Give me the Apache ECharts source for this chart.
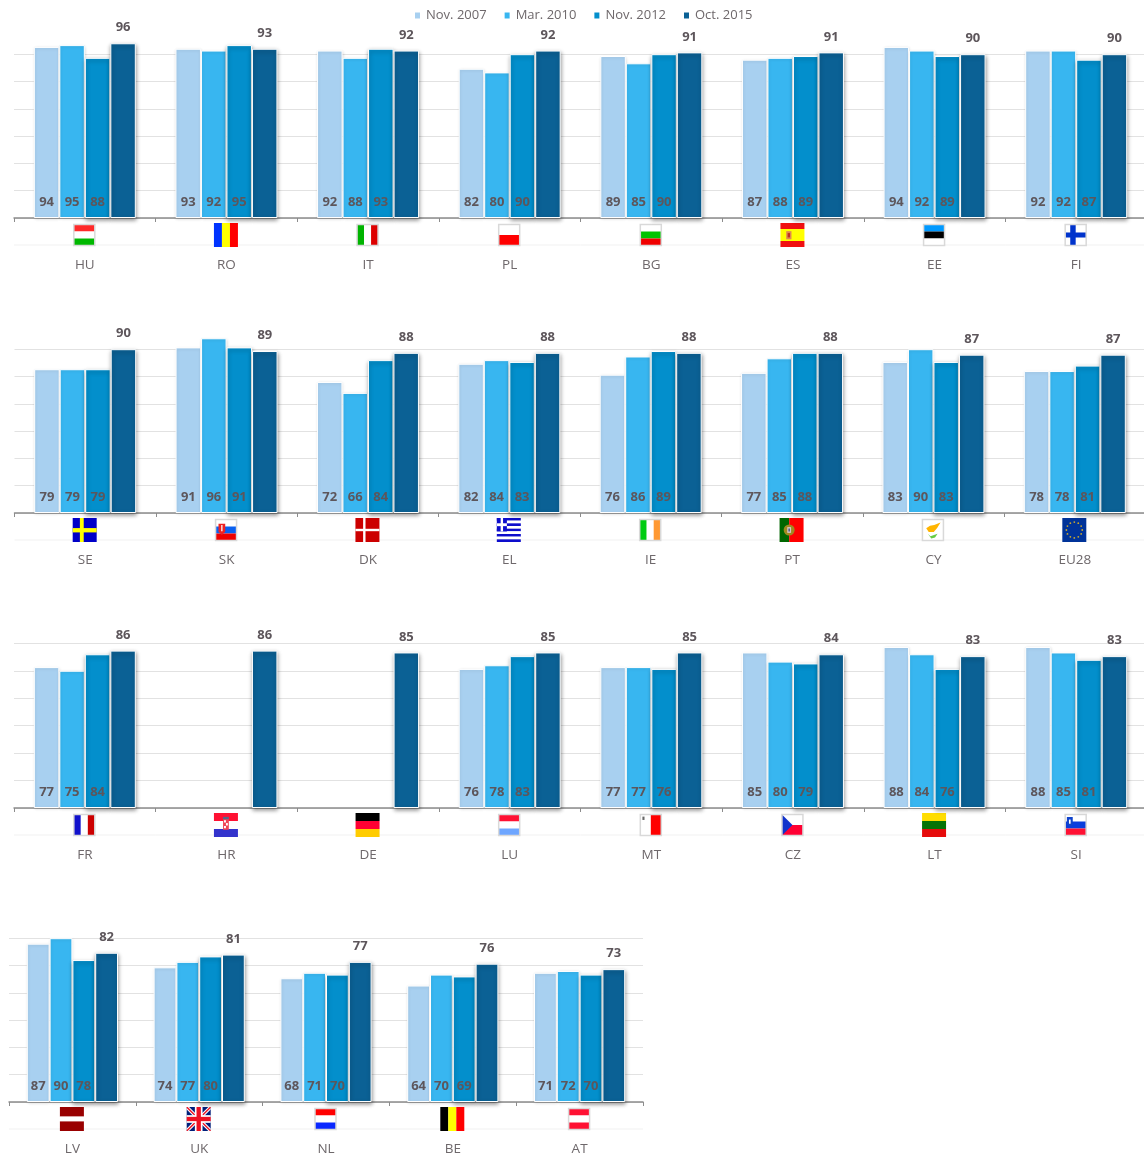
<!DOCTYPE html>
<html>
<head>
<meta charset="utf-8">
<style>html,body{margin:0;padding:0;background:#fff;overflow:hidden;width:1144px;height:1159px}#chart{width:1170px;height:1159px}</style>
<script src="https://cdn.jsdelivr.net/npm/echarts@6/dist/echarts.min.js"></script>
</head>
<body>
<div id="chart"></div>
<script>
// Survey waves
const waves = ['Nov. 2007', 'Mar. 2010', 'Nov. 2012', 'Oct. 2015'];

// Row 1
const row1Countries = ['HU', 'RO', 'IT', 'PL', 'BG', 'ES', 'EE', 'FI'];
const row1Nov2007 = [94, 93, 92, 82, 89, 87, 94, 92];
const row1Mar2010 = [95, 92, 88, 80, 85, 88, 92, 92];
const row1Nov2012 = [88, 95, 93, 90, 90, 89, 89, 87];
const row1Oct2015 = [96, 93, 92, 92, 91, 91, 90, 90];

// Row 2
const row2Countries = ['SE', 'SK', 'DK', 'EL', 'IE', 'PT', 'CY', 'EU28'];
const row2Nov2007 = [79, 91, 72, 82, 76, 77, 83, 78];
const row2Mar2010 = [79, 96, 66, 84, 86, 85, 90, 78];
const row2Nov2012 = [79, 91, 84, 83, 89, 88, 83, 81];
const row2Oct2015 = [90, 89, 88, 88, 88, 88, 87, 87];

// Row 3 (HR and DE only have the latest wave)
const row3Countries = ['FR', 'HR', 'DE', 'LU', 'MT', 'CZ', 'LT', 'SI'];
const row3Nov2007 = [77, null, null, 76, 77, 85, 88, 88];
const row3Mar2010 = [75, null, null, 78, 77, 80, 84, 85];
const row3Nov2012 = [84, null, null, 83, 76, 79, 76, 81];
const row3Oct2015 = [86, 86, 85, 85, 85, 84, 83, 83];

// Row 4
const row4Countries = ['LV', 'UK', 'NL', 'BE', 'AT'];
const row4Nov2007 = [87, 74, 68, 64, 71];
const row4Mar2010 = [90, 77, 71, 70, 72];
const row4Nov2012 = [78, 80, 70, 69, 70];
const row4Oct2015 = [82, 81, 77, 76, 73];

const rows = [
  { countries: row1Countries, values: [row1Nov2007, row1Mar2010, row1Nov2012, row1Oct2015] },
  { countries: row2Countries, values: [row2Nov2007, row2Mar2010, row2Nov2012, row2Oct2015] },
  { countries: row3Countries, values: [row3Nov2007, row3Mar2010, row3Nov2012, row3Oct2015] },
  { countries: row4Countries, values: [row4Nov2007, row4Mar2010, row4Nov2012, row4Oct2015] }
];

// Panel geometry and palette
const panels = [
  { left: 14, width: 1133, axisY: 218, plotHeight: 182, barWidth: 25.5 },
  { left: 14.5, width: 1131, axisY: 513, plotHeight: 182, barWidth: 25.5 },
  { left: 14, width: 1133, axisY: 808, plotHeight: 183, barWidth: 25.5 },
  { left: 9, width: 634, axisY: 1102, plotHeight: 182, barWidth: 22.8 }
];
const waveColors = ['#a8d0f0', '#38b6f0', '#038fcc', '#0b6195'];
const inkColor = '#5d565b';

// Flags are painted in a unit square by a small painter
const flags = {
  HU: { frame: 1, paint: f => f.h(['#ff2a2a', '#ffffff', '#00b800']) },
  RO: { paint: f => f.v(['#0033ff', '#ffff00', '#ff0000']) },
  IT: { frame: 1, paint: f => f.v(['#00b400', '#ffffff', '#dd0000']) },
  PL: { frame: 1, paint: f => f.h(['#ffffff', '#ff0000']) },
  BG: { frame: 1, paint: f => f.h(['#ffffff', '#00c400', '#f00000']) },
  ES: { paint: f => {
    f.h(['#f01010', '#ffff00', '#f01010'], [1, 2, 1]);
    f.r(0.24, 0.34, 0.46, 0.68, '#e08a50');
    f.r(0.3, 0.42, 0.4, 0.6, '#c03020');
  } },
  EE: { frame: 1, paint: f => f.h(['#0099ff', '#000000', '#ffffff']) },
  FI: { frame: 1, paint: f => {
    f.r(0, 0, 1, 1, '#ffffff');
    f.r(0, 0.38, 1, 0.62, '#0033cc');
    f.r(0.24, 0, 0.5, 1, '#0033cc');
  } },
  SE: { paint: f => {
    f.r(0, 0, 1, 1, '#0000c8');
    f.r(0, 0.42, 1, 0.6, '#ffff00');
    f.r(0.3, 0, 0.46, 1, '#ffff00');
  } },
  SK: { frame: 1, paint: f => {
    f.h(['#ffffff', '#0a60f0', '#ee0000']);
    f.p([[0.14, 0.2], [0.46, 0.2], [0.46, 0.58], [0.3, 0.74], [0.14, 0.58]], '#ee2222');
    f.r(0.27, 0.26, 0.33, 0.56, '#ffffff');
  } },
  DK: { paint: f => {
    f.r(0, 0, 1, 1, '#cc0000');
    f.r(0, 0.45, 1, 0.55, '#ffffff');
    f.r(0.32, 0, 0.42, 1, '#ffffff');
  } },
  EL: { paint: f => {
    f.h(['#0d0dcc', '#ffffff', '#0d0dcc', '#ffffff', '#0d0dcc', '#ffffff', '#0d0dcc', '#ffffff', '#0d0dcc']);
    f.r(0, 0, 0.42, 0.56, '#0d0dcc');
    f.r(0, 0.22, 0.42, 0.34, '#ffffff');
    f.r(0.16, 0, 0.26, 0.56, '#ffffff');
  } },
  IE: { frame: 1, paint: f => f.v(['#00cc11', '#ffffff', '#ff9933']) },
  PT: { paint: f => {
    f.v(['#006600', '#ff0000'], [2, 3]);
    f.c(0.4, 0.5, 5.5, '#a08a20');
    f.r(0.32, 0.38, 0.48, 0.62, '#d8c8c8');
    f.r(0.37, 0.44, 0.43, 0.56, '#40508a');
  } },
  CY: { frame: 1, paint: f => {
    f.r(0, 0, 1, 1, '#ffffff');
    f.p([[0.18, 0.42], [0.36, 0.3], [0.56, 0.26], [0.86, 0.14], [0.7, 0.4], [0.54, 0.6], [0.3, 0.6]], '#ffb400');
    f.p([[0.26, 0.68], [0.38, 0.8], [0.72, 0.68], [0.6, 0.86], [0.42, 0.9]], '#66cc44');
  } },
  EU28: { paint: f => {
    f.r(0, 0, 1, 1, '#003399');
    for (let i = 0; i < 12; i++) {
      const a = i * Math.PI / 6;
      f.c(0.5 + 0.33 * Math.cos(a), 0.5 + 0.33 * Math.sin(a), 0.9, '#c8a830');
    }
  } },
  FR: { frame: 1, paint: f => f.v(['#1111cc', '#ffffff', '#cc0000']) },
  HR: { paint: f => {
    f.h(['#ff1133', '#ffffff', '#3333cc']);
    f.r(0.38, 0.18, 0.62, 0.7, '#ee4455');
    f.r(0.42, 0.3, 0.5, 0.4, '#ffffff');
    f.r(0.5, 0.42, 0.58, 0.52, '#ffffff');
    f.r(0.42, 0.54, 0.5, 0.64, '#ffffff');
    f.r(0.38, 0.16, 0.62, 0.26, '#556688');
  } },
  DE: { paint: f => f.h(['#000000', '#ff0033', '#ffcc00']) },
  LU: { frame: 1, paint: f => f.h(['#ff1133', '#ffffff', '#6ea6ff']) },
  MT: { frame: 1, paint: f => {
    f.v(['#ffffff', '#ff0000']);
    f.r(0.1, 0.1, 0.2, 0.26, '#666666');
  } },
  CZ: { frame: 1, paint: f => {
    f.h(['#ffffff', '#ff0033']);
    f.p([[0, 0], [0.5, 0.5], [0, 1]], '#1133cc');
  } },
  LT: { paint: f => f.h(['#ffdd00', '#067306', '#e60b0b']) },
  SI: { frame: 1, paint: f => {
    f.h(['#ffffff', '#0a3ddd', '#ff1133']);
    f.p([[0.08, 0.12], [0.36, 0.12], [0.36, 0.48], [0.22, 0.6], [0.08, 0.48]], '#1144cc');
    f.r(0.18, 0.24, 0.26, 0.44, '#ffffff');
  } },
  LV: { paint: f => f.h(['#990000', '#ffffff', '#990000'], [2, 1, 2]) },
  UK: { paint: f => {
    f.r(0, 0, 1, 1, '#001f7a');
    f.p([[0.1, 0], [1, 0.9], [1, 1], [0.9, 1], [0, 0.1], [0, 0]], '#ffffff');
    f.p([[0.9, 0], [1, 0], [1, 0.1], [0.1, 1], [0, 1], [0, 0.9]], '#ffffff');
    f.p([[0.04, 0], [1, 0.96], [1, 1], [0.96, 1], [0, 0.04], [0, 0]], '#ee1122');
    f.p([[0.96, 0], [1, 0], [1, 0.04], [0.04, 1], [0, 1], [0, 0.96]], '#ee1122');
    f.r(0, 0.34, 1, 0.66, '#ffffff');
    f.r(0.34, 0, 0.66, 1, '#ffffff');
    f.r(0, 0.41, 1, 0.59, '#ee1122');
    f.r(0.41, 0, 0.59, 1, '#ee1122');
  } },
  NL: { frame: 1, paint: f => f.h(['#ff0000', '#ffffff', '#0a28ff']) },
  BE: { paint: f => f.v(['#000000', '#ffff00', '#ff0000']) },
  AT: { frame: 1, paint: f => f.h(['#ff1133', '#ffffff', '#ff1133']) }
};

// Collects the graphic children for one flag centred on (cx, cy)
function flagChildren(code, cx, cy) {
  const spec = flags[code];
  const w = spec.frame ? 21 : 24;
  const x0 = cx - w / 2, y0 = cy - w / 2;
  const out = [];
  const px = u => x0 + u * w, py = u => y0 + u * w;
  const style = fill => ({ fill: fill });
  const painter = {
    r(a, b, c, d, fill) {
      out.push({ type: 'rect', shape: { x: px(a), y: py(b), width: (c - a) * w, height: (d - b) * w }, style: style(fill) });
    },
    p(points, fill) {
      out.push({ type: 'polygon', shape: { points: points.map(q => [px(q[0]), py(q[1])]) }, style: style(fill) });
    },
    c(a, b, radius, fill) {
      out.push({ type: 'circle', shape: { cx: px(a), cy: py(b), r: radius }, style: style(fill) });
    },
    h(colors, weights) { stripes(colors, weights, true); },
    v(colors, weights) { stripes(colors, weights, false); }
  };
  function stripes(colors, weights, horizontal) {
    const ws = weights || colors.map(() => 1);
    const total = ws.reduce((s, n) => s + n, 0);
    let at = 0;
    colors.forEach((col, i) => {
      const next = at + ws[i] / total;
      if (horizontal) painter.r(0, at, 1, next, col); else painter.r(at, 0, next, 1, col);
      at = next;
    });
  }
  spec.paint(painter);
  if (spec.frame) {
    out.push({ type: 'rect', shape: { x: x0, y: y0, width: w, height: w }, style: { fill: 'none', stroke: '#d9d9d9', lineWidth: 1.5 } });
  }
  return out;
}

const grid = [], xAxis = [], yAxis = [], series = [];

rows.forEach((row, r) => {
  const panel = panels[r];
  grid.push({ left: panel.left, width: panel.width, top: panel.axisY - panel.plotHeight, height: panel.plotHeight });
  xAxis.push({
    type: 'category', gridIndex: r, data: row.countries,
    axisLine: { lineStyle: { color: '#8c8c8c', width: 1.5 } },
    axisTick: { show: true, length: 4, lineStyle: { color: '#8c8c8c' } },
    axisLabel: { color: '#6e686b', fontSize: 13.5, margin: 40, interval: 0 }
  });
  yAxis.push({
    type: 'value', gridIndex: r, min: 0, max: 100, interval: 15,
    axisLine: { show: false }, axisTick: { show: false }, axisLabel: { show: false },
    splitLine: { showMaxLine: false, lineStyle: { color: '#e2e2e2', width: 1.2 } }
  });

  // Flag strip under the axis, with its faint rule
  series.push({
    type: 'custom', xAxisIndex: r, yAxisIndex: r, silent: true, z: 1,
    data: row.countries.map((c, i) => [i, 0]),
    encode: { x: 0, y: 1 },
    renderItem(params, api) {
      const idx = api.value(0);
      const p = api.coord([idx, 0]);
      const band = api.size([1, 0])[0];
      const children = [{
        type: 'line',
        shape: { x1: p[0] - band / 2, y1: p[1] + 27, x2: p[0] + band / 2, y2: p[1] + 27 },
        style: { stroke: '#f1f1f1', lineWidth: 1.2 }
      }].concat(flagChildren(row.countries[idx], p[0] - 0.5, p[1] + 17));
      return { type: 'group', children };
    }
  });

  waves.forEach((wave, w) => {
    const latest = w === 3;
    series.push({
      name: wave, type: 'bar', xAxisIndex: r, yAxisIndex: r, data: row.values[w],
      barWidth: panel.barWidth, barGap: 0, z: 3,
      itemStyle: {
        color: waveColors[w], borderColor: '#ffffff', borderWidth: 1,
        shadowColor: w >= 2 ? 'rgba(0,0,0,0.4)' : 'rgba(0,0,0,0.12)',
        shadowBlur: w >= 2 ? 4 : 3, shadowOffsetX: 0.5, shadowOffsetY: w >= 2 ? 2 : 1
      },
      label: {
        show: true, color: inkColor, fontWeight: 'bold', fontSize: 13,
        position: latest ? 'top' : 'insideBottom', distance: 9
      }
    });
  });
});

const chart = echarts.init(document.getElementById('chart'), null, { renderer: 'canvas' });
chart.setOption({
  animation: false,
  backgroundColor: '#ffffff',
  textStyle: { fontFamily: '"Open Sans", "Noto Sans", sans-serif' },
  legend: {
    data: waves, left: 413, top: 9, padding: 0, icon: 'rect', itemWidth: 7, itemHeight: 8, itemGap: 16,
    textStyle: { color: '#6e686b', fontSize: 13 }
  },
  grid, xAxis, yAxis, series
});
</script>
</body>
</html>
